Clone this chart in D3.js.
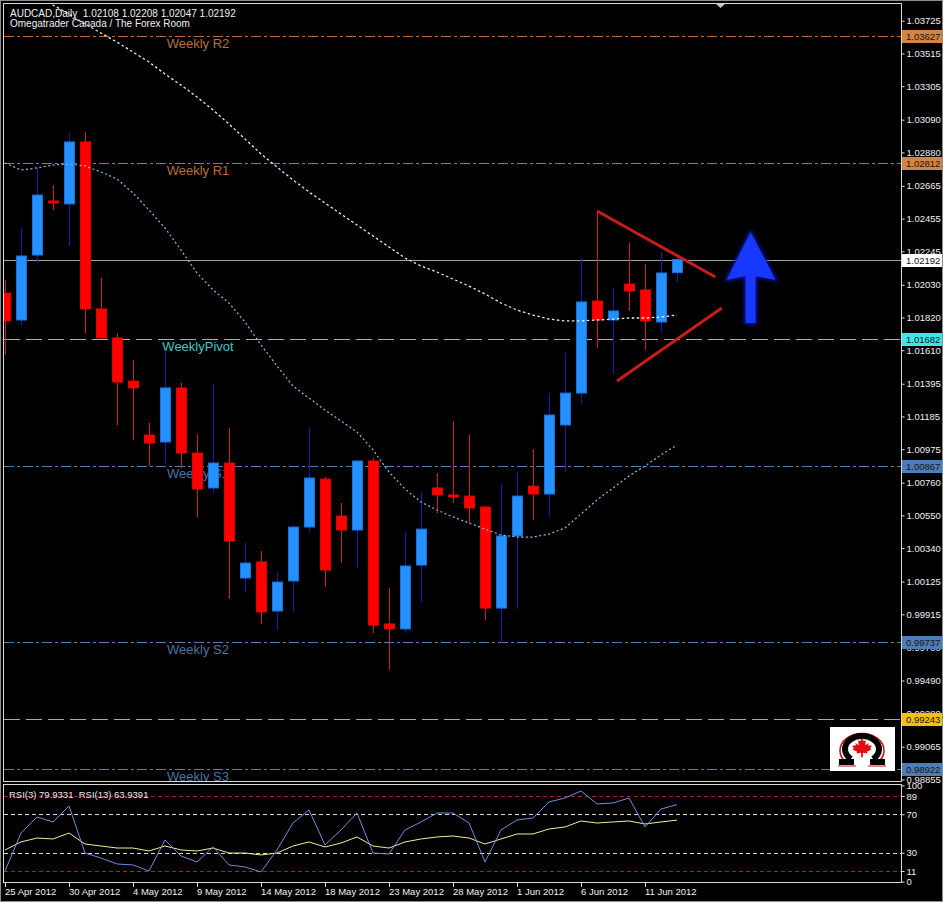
<!DOCTYPE html>
<html><head><meta charset="utf-8">
<script src="https://cdn.jsdelivr.net/npm/d3@7"></script>
<style>
html,body{margin:0;padding:0;background:#000;}
svg{display:block;}
text{font-family:"Liberation Sans",Arial,sans-serif;white-space:pre;}
</style></head><body>
<svg id="chart" width="943" height="902"></svg>
<script>
// ---------------- DATA ----------------
const symbol = "AUDCAD,Daily";
const subtitle = "Omegatrader Canada / The Forex Room";
const dates = ["25 Apr 2012","26 Apr 2012","27 Apr 2012","29 Apr 2012","30 Apr 2012","1 May 2012","2 May 2012","3 May 2012","4 May 2012","6 May 2012","7 May 2012","8 May 2012","9 May 2012","10 May 2012","11 May 2012","13 May 2012","14 May 2012","15 May 2012","16 May 2012","17 May 2012","18 May 2012","20 May 2012","21 May 2012","22 May 2012","23 May 2012","24 May 2012","25 May 2012","27 May 2012","28 May 2012","29 May 2012","30 May 2012","31 May 2012","1 Jun 2012","3 Jun 2012","4 Jun 2012","5 Jun 2012","6 Jun 2012","7 Jun 2012","8 Jun 2012","10 Jun 2012","11 Jun 2012","12 Jun 2012","13 Jun 2012"];
const open  = [1.01977,1.01804,1.02221,1.02568,1.02549,1.02947,1.01875,1.01689,1.01412,1.01066,1.01021,1.01368,1.00950,1.00726,1.00886,1.00148,1.00251,0.99936,1.00129,1.00475,1.00783,1.00546,1.00456,1.00899,0.99853,0.99821,1.00231,1.00726,1.00681,1.00674,1.00604,0.99955,1.00418,1.00738,1.00687,1.01130,1.01335,1.01926,1.01804,1.02035,1.01997,1.01791,1.02108];
const high  = [1.02061,1.02395,1.02780,1.02671,1.03004,1.03011,1.02074,1.01721,1.01547,1.01143,1.01611,1.01400,1.01072,1.01393,1.01111,1.00373,1.00321,1.00186,1.00488,1.01117,1.00796,1.00629,1.00905,1.00918,1.00084,1.00443,1.00700,1.00822,1.01156,1.01066,1.00610,1.00751,1.00828,1.00976,1.01335,1.01592,1.02196,1.02504,1.02009,1.02298,1.02163,1.02241,1.02208];
const low   = [1.01579,1.01772,1.02170,1.02510,1.02279,1.01721,1.01685,1.01130,1.01034,1.00867,1.00886,1.00854,1.00540,1.00694,1.00013,1.00058,0.99853,0.99814,0.99930,1.00437,1.00090,1.00244,1.00212,0.99795,0.99557,0.99795,0.99994,1.00565,1.00629,1.00501,0.99878,0.99731,0.99949,1.00520,1.00540,1.00828,1.01265,1.01624,1.01457,1.01862,1.01611,1.01721,1.02047];
const close = [1.01798,1.02215,1.02606,1.02555,1.02947,1.01875,1.01689,1.01406,1.01368,1.01014,1.01368,1.00950,1.00719,1.00886,1.00385,1.00244,0.99930,1.00122,1.00475,1.00790,1.00199,1.00456,1.00899,0.99846,0.99821,1.00225,1.00462,1.00681,1.00668,1.00597,0.99955,1.00418,1.00674,1.00687,1.01194,1.01335,1.01920,1.01804,1.01862,1.01990,1.01798,1.02106,1.02192];
const maSlow = [1.04006,1.03948,1.03890,1.03826,1.03768,1.03704,1.03646,1.03588,1.03524,1.03460,1.03383,1.03312,1.03235,1.03152,1.03062,1.02966,1.02870,1.02786,1.02703,1.02626,1.02555,1.02484,1.02414,1.02343,1.02273,1.02202,1.02151,1.02112,1.02067,1.02022,1.01971,1.01913,1.01868,1.01836,1.01810,1.01798,1.01798,1.01804,1.01810,1.01817,1.01817,1.01823,1.01836];
const maFast = [1.02812,1.02767,1.02780,1.02799,1.02805,1.02793,1.02754,1.02709,1.02619,1.02510,1.02395,1.02253,1.02106,1.01997,1.01913,1.01791,1.01644,1.01509,1.01380,1.01303,1.01226,1.01156,1.01085,1.00970,1.00828,1.00719,1.00636,1.00584,1.00540,1.00501,1.00462,1.00424,1.00411,1.00411,1.00430,1.00469,1.00559,1.00649,1.00726,1.00803,1.00867,1.00938,1.01002];
const rsi3  = [11.0,50.5,67.2,62.0,78.6,29.7,24.5,18.3,17.3,11.0,43.3,26.6,20.4,36.0,17.3,15.2,10.0,32.9,61.0,74.5,38.1,53.7,71.3,29.7,28.7,53.7,62.0,71.3,71.3,61.0,20.4,53.7,64.1,66.1,82.8,86.9,94.2,80.7,81.7,86.9,56.8,75.5,79.9331];
const rsi13 = [32.9,41.2,45.3,44.3,50.5,39.1,37.0,34.9,34.9,31.8,37.0,32.9,31.8,34.9,29.7,29.7,27.7,29.7,37.0,41.2,36.0,40.1,46.4,37.0,34.9,41.2,44.3,46.4,47.4,45.3,39.1,44.3,49.5,49.5,54.7,56.8,63.0,60.9,62.0,63.0,59.9,62.0,63.9391];
const pivotNames  = ["Weekly R2","Weekly R1","WeeklyPivot","Weekly S1","Weekly S2","Weekly S3"];
const pivotValues = [1.03627,1.02812,1.01682,1.00867,0.99737,0.98922];
const extraLevel  = 0.99243;
const yTicks = [1.03725,1.03515,1.03305,1.03090,1.02880,1.02665,1.02455,1.02245,1.02030,1.01820,1.01610,1.01395,1.01185,1.00975,1.00760,1.00550,1.00340,1.00125,0.99915,0.99700,0.99490,0.99280,0.99065,0.98855];
const xTickIndex = [0,4,8,12,16,20,24,28,32,36,40];
const rsiLevels = [89,70,30,11];
const rsiTicks = [100,89,70,30,11,0];
// annotations (bar index, price)
const triUpper = [[37,1.02504],[44.4,1.02080]];
const triLower = [[38.25,1.01413],[44.8,1.01881]];
const arrowIdx = 46.6, arrowBase = 1.01785, arrowHead = 1.02061, arrowTip = 1.02369;

// ---------------- SCALES ----------------
const svg = d3.select('#chart');
const P = {l:4, r:901, t:4, b:781};
const R = {t:785, b:882};
const x = d3.scaleLinear().domain([0,56]).range([5,901]);
const y = d3.scaleLinear().domain([0.98922,1.03627]).range([769,36]);
const yr = d3.scaleLinear().domain([0,100]).range([881.6,785.4]);
const N = close.length;
const idx = d3.range(N);

svg.append('rect').attr('width',943).attr('height',902).attr('fill','#000');
const defs = svg.append('defs');
defs.append('clipPath').attr('id','clipMain').append('rect')
  .attr('x',P.l).attr('y',P.t).attr('width',P.r-P.l).attr('height',P.b-P.t);
defs.append('clipPath').attr('id','clipRsi').append('rect')
  .attr('x',P.l).attr('y',R.t).attr('width',P.r-P.l).attr('height',R.b-R.t);
const glow = defs.append('filter').attr('id','glow').attr('x','-50%').attr('y','-50%').attr('width','200%').attr('height','200%');
glow.append('feGaussianBlur').attr('stdDeviation',2);

const main = svg.append('g').attr('clip-path','url(#clipMain)');

// ---------------- LEVEL LINES ----------------
const pivColor = ['#b86c3e','#b86c3e','#5ccfcf','#5a7ea8','#5a7ea8','#5a7ea8'];
const pivText  = ['#b8703f','#b8703f','#3fc8c8','#4d72a0','#4d72a0','#4d72a0'];
const pivDash  = ['10,3,3,3','10,3,3,3','16,6','10,3,3,3','10,3,3,3','10,3,3,3'];
main.selectAll('line.piv').data(pivotValues).join('line').attr('class','piv')
  .attr('x1',P.l).attr('x2',P.r).attr('y1',d=>Math.round(y(d))+0.5).attr('y2',d=>Math.round(y(d))+0.5)
  .attr('stroke',(d,i)=>pivColor[i]).attr('stroke-dasharray',(d,i)=>pivDash[i]).attr('stroke-width',1);
main.append('line').attr('x1',P.l).attr('x2',P.r)
  .attr('y1',Math.round(y(extraLevel))+0.5).attr('y2',Math.round(y(extraLevel))+0.5)
  .attr('stroke','#d9a050').attr('stroke-dasharray','16,6');
main.append('line').attr('x1',P.l).attr('x2',P.r)
  .attr('y1',Math.round(y(close[N-1]))+0.5).attr('y2',Math.round(y(close[N-1]))+0.5)
  .attr('stroke','#a0a0a0');
main.selectAll('text.piv').data(pivotValues).join('text').attr('class','piv')
  .attr('x',198).attr('y',d=>y(d)+12).attr('text-anchor','middle')
  .attr('font-size',13).attr('fill',(d,i)=>pivText[i]).text((d,i)=>pivotNames[i]);

// ---------------- CANDLES ----------------
const isUp = i => close[i] >= open[i];
main.selectAll('line.wick').data(idx).join('line').attr('class','wick')
  .attr('x1',i=>Math.round(x(i))+0.5).attr('x2',i=>Math.round(x(i))+0.5)
  .attr('y1',i=>y(high[i])).attr('y2',i=>y(low[i]))
  .attr('stroke',i=>isUp(i)?'#1818b8':'#d81818').attr('stroke-width',1);
main.selectAll('rect.body').data(idx).join('rect').attr('class','body')
  .attr('x',i=>Math.round(x(i))-4.5).attr('width',10)
  .attr('y',i=>y(Math.max(open[i],close[i])))
  .attr('height',i=>Math.max(2,Math.abs(y(open[i])-y(close[i]))))
  .attr('fill',i=>isUp(i)?'#2392ff':'#ff0000')
  .attr('stroke',i=>isUp(i)?'#1a6ee0':'#e00000').attr('stroke-width',1);

// ---------------- MOVING AVERAGES ----------------
const lineP = arr => d3.line().x(i=>x(i)).y(i=>y(arr[i]))(idx);
main.append('path').attr('d',lineP(maSlow)).attr('fill','none')
  .attr('stroke','#ececec').attr('stroke-width',1.3).attr('stroke-dasharray','2.5,2.5');
main.append('path').attr('d',lineP(maFast)).attr('fill','none')
  .attr('stroke','#8cbce0').attr('stroke-width',1.2).attr('stroke-dasharray','2,2.5');

// ---------------- ANNOTATIONS ----------------
[triUpper,triLower].forEach(seg=>{
  main.append('line').attr('x1',x(seg[0][0])).attr('y1',y(seg[0][1]))
    .attr('x2',x(seg[1][0])).attr('y2',y(seg[1][1]))
    .attr('stroke','#c81c1c').attr('stroke-width',3);
});
const ax = x(arrowIdx), yb = y(arrowBase), yh = y(arrowHead), yt = y(arrowTip);
const arrowD = `M${ax-5},${yb} L${ax-5},${yh-4} L${ax-24},${yh} L${ax},${yt} L${ax+25},${yh} L${ax+5},${yh-4} L${ax+5},${yb} Z`;
main.append('path').attr('d',arrowD).attr('fill','#0818a0').attr('stroke','#0818a0').attr('stroke-width',3).attr('filter','url(#glow)');
main.append('path').attr('d',arrowD).attr('fill','#1638ff');

// ---------------- HEADER ----------------
const last = N-1;
svg.append('text').attr('x',10).attr('y',16.5).attr('font-size',10).attr('fill','#f0f0f0')
  .text(`${symbol}  ${open[last].toFixed(5)} ${high[last].toFixed(5)} ${low[last].toFixed(5)} ${close[last].toFixed(5)}`);
svg.append('text').attr('x',10).attr('y',26.5).attr('font-size',10).attr('fill','#f0f0f0').text(subtitle);

// ---------------- LOGO ----------------
const logo = svg.append('g');
logo.append('rect').attr('x',830).attr('y',727).attr('width',65).attr('height',44).attr('fill','#fff');
logo.append('path').attr('d','M847,763 A22,17 0 1 1 877,763').attr('fill','none').attr('stroke','#c0141c').attr('stroke-width',1.6);
logo.append('path').attr('d','M851,759 A17,13 0 1 1 873,759').attr('fill','none').attr('stroke','#000').attr('stroke-width',6);
logo.append('rect').attr('x',839).attr('y',759).attr('width',15).attr('height',6).attr('fill','#000');
logo.append('rect').attr('x',870).attr('y',759).attr('width',15).attr('height',6).attr('fill','#000');
logo.append('path').attr('d','M838,766 L856,766 M868,766 L886,766').attr('stroke','#c0141c').attr('stroke-width',1.2);
const leaf = [[0,-1],[0.15,-0.7],[0.35,-0.8],[0.3,-0.35],[0.6,-0.55],[0.55,-0.35],[0.9,-0.3],[0.75,-0.1],[0.85,0.05],[0.45,0.25],[0.5,0.4],[0.08,0.35],[0.08,0.75],[-0.08,0.75],[-0.08,0.35],[-0.5,0.4],[-0.45,0.25],[-0.85,0.05],[-0.75,-0.1],[-0.9,-0.3],[-0.55,-0.35],[-0.6,-0.55],[-0.3,-0.35],[-0.35,-0.8],[-0.15,-0.7]];
logo.append('polygon').attr('points',leaf.map(p=>[862+p[0]*11,749+p[1]*11].join(',')).join(' ')).attr('fill','#e01010');

// ---------------- FRAMES & AXES ----------------
svg.append('rect').attr('x',0.5).attr('y',0.5).attr('width',942).attr('height',901).attr('fill','none').attr('stroke','#8c8c8c');
svg.append('polygon').attr('points','715,3 726,3 720.5,8').attr('fill','#c8c8c8');
svg.append('rect').attr('x',P.l-0.5).attr('y',P.t-0.5).attr('width',P.r-P.l+1).attr('height',P.b-P.t+1)
  .attr('fill','none').attr('stroke','#d8d8d8');
const yAxis = d3.axisRight(y).tickValues(yTicks).tickSize(3).tickSizeOuter(0).tickPadding(2).tickFormat(d3.format('.5f'));
const gy = svg.append('g').attr('transform',`translate(${P.r+0.5},0)`).call(yAxis);
gy.select('.domain').remove();
gy.selectAll('line').attr('stroke','#e0e0e0');
gy.selectAll('text').attr('fill','#f0f0f0').attr('font-size',9.5).attr('font-family','"Liberation Sans",Arial,sans-serif');

// highlighted price labels
const hlVals = pivotValues.concat([extraLevel, close[N-1]]);
const hlFill = ['#d28444','#d28444','#3ee6e6','#4d7db4','#4d7db4','#4d7db4','#f5c010','#ffffff'];
const hl = svg.selectAll('g.hl').data(hlVals).join('g').attr('class','hl');
hl.append('rect').attr('x',P.r+1).attr('y',d=>Math.round(y(d))-6).attr('width',40).attr('height',13)
  .attr('fill',(d,i)=>hlFill[i]);
hl.append('text').attr('x',P.r+5).attr('y',d=>Math.round(y(d))+4).attr('font-size',9.5)
  .attr('fill','#141414').text(d=>d.toFixed(5));

// ---------------- RSI PANEL ----------------
svg.append('rect').attr('x',P.l-0.5).attr('y',R.t-0.5).attr('width',P.r-P.l+1).attr('height',R.b-R.t+1)
  .attr('fill','none').attr('stroke','#d8d8d8');
const rg = svg.append('g').attr('clip-path','url(#clipRsi)');
rg.selectAll('line.lv').data(rsiLevels).join('line').attr('class','lv')
  .attr('x1',P.l).attr('x2',P.r).attr('y1',d=>Math.round(yr(d))+0.5).attr('y2',d=>Math.round(yr(d))+0.5)
  .attr('stroke',d=>(d===89||d===11)?'#b0202c':'#d8d8d8').attr('stroke-dasharray','4,3');
const rline = arr => d3.line().x(i=>x(i)).y(i=>yr(arr[i]))(idx);
rg.append('path').attr('d',rline(rsi13)).attr('fill','none').attr('stroke','#eeeea0').attr('stroke-width',1);
rg.append('path').attr('d',rline(rsi3)).attr('fill','none').attr('stroke','#6d8fdc').attr('stroke-width',1);
svg.append('text').attr('x',9).attr('y',798).attr('font-size',9.5).attr('fill','#e8e8e8')
  .text(`RSI(3) ${rsi3[N-1].toFixed(4)}  RSI(13) ${rsi13[N-1].toFixed(4)}`);
const ryAxis = d3.axisRight(yr).tickValues(rsiTicks).tickSize(3).tickSizeOuter(0).tickPadding(2).tickFormat(d3.format('d'));
const gry = svg.append('g').attr('transform',`translate(${P.r+0.5},0)`).call(ryAxis);
gry.select('.domain').remove();
gry.selectAll('line').attr('stroke','#e0e0e0');
gry.selectAll('text').attr('fill','#f0f0f0').attr('font-size',9.5).attr('font-family','"Liberation Sans",Arial,sans-serif');

// ---------------- DATE AXIS ----------------
const gx = svg.append('g');
gx.selectAll('line').data(xTickIndex).join('line')
  .attr('x1',i=>Math.round(x(i))+0.5).attr('x2',i=>Math.round(x(i))+0.5).attr('y1',R.b).attr('y2',R.b+5)
  .attr('stroke','#e0e0e0');
gx.selectAll('text').data(xTickIndex).join('text')
  .attr('x',i=>x(i)).attr('y',895).attr('font-size',9.5).attr('fill','#f0f0f0')
  .text(i=>dates[i]);
</script>
</body></html>
